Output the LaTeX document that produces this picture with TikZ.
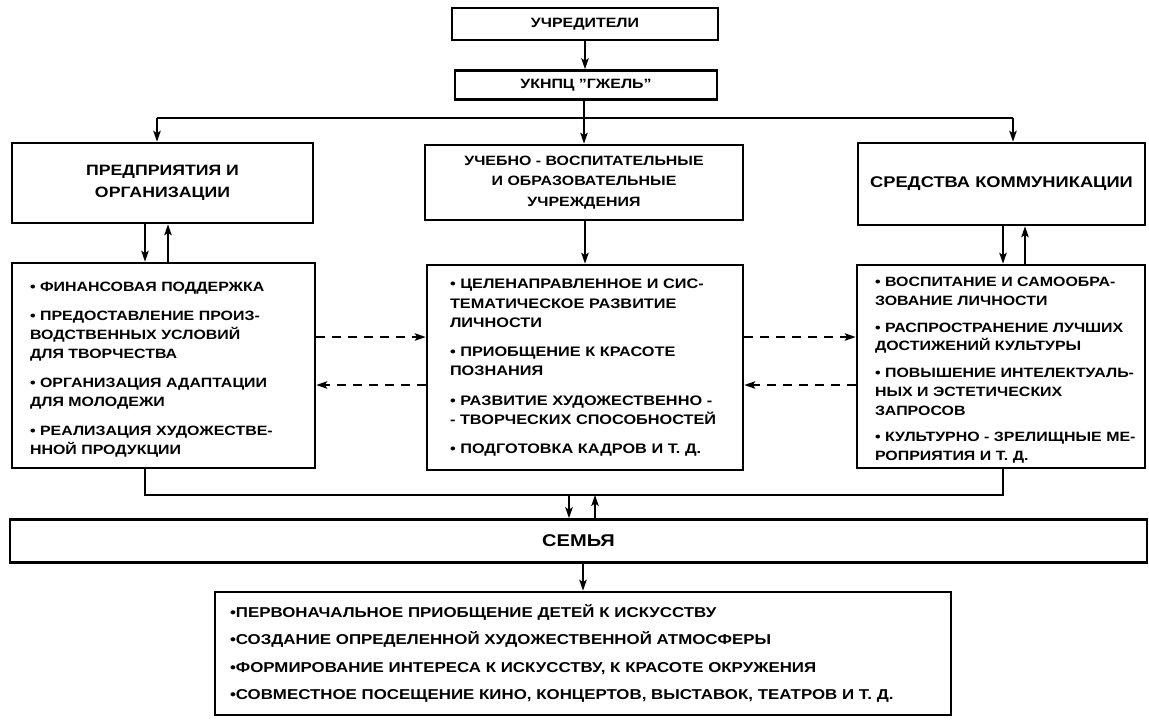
\documentclass[tikz,border=0pt]{standalone}
\usepackage{fontspec}
\setmainfont{Liberation Sans}[FakeStretch=1.18]
\usetikzlibrary{arrows.meta}
\begin{document}
\begin{tikzpicture}[x=1pt,y=-1pt,
  box/.style={draw, line width=2.6pt, inner sep=0pt, align=center,
    font=\bfseries\fontsize{13.5}{21}\selectfont},
  listbox/.style={box, align=left, font=\bfseries\fontsize{13.5}{19}\selectfont},
  conn/.style={line width=1.6pt},
  arr/.style={conn, -{Stealth[length=11pt,width=7.5pt,inset=2.5pt]}},
  darr/.style={arr, dash pattern=on 9pt off 7pt},
]
\useasboundingbox (0,0) rectangle (1149,720);

% top chain
\node[box, minimum width=266pt, minimum height=32pt] (uch) at (585,24) {УЧРЕДИТЕЛИ};
\node[box, minimum width=262pt, minimum height=29pt] (ukn) at (586,85) {УКНПЦ "ГЖЕЛЬ"};

% three upper boxes
\node[box, minimum width=301pt, minimum height=80pt, font=\bfseries\fontsize{15}{22}\selectfont] (ent) at (162.5,183)
  {ПРЕДПРИЯТИЯ И\\ОРГАНИЗАЦИИ};
\node[box, minimum width=318pt, minimum height=75pt, font=\bfseries\fontsize{13.5}{20.5}\selectfont] (edu) at (584,182.5)
  {УЧЕБНО - ВОСПИТАТЕЛЬНЫЕ\\И ОБРАЗОВАТЕЛЬНЫЕ\\УЧРЕЖДЕНИЯ};
\node[box, minimum width=287pt, minimum height=82pt, font=\bfseries\fontsize{15.5}{21}\selectfont] (com) at (1001.5,184)
  {СРЕДСТВА КОММУНИКАЦИИ};

% three lower boxes
\node[listbox, minimum width=303pt, minimum height=205pt, text width=267pt] (L) at (163.5,365.5)
  {\rule{0pt}{17pt}• ФИНАНСОВАЯ ПОДДЕРЖКА\\[10pt]
   • ПРЕДОСТАВЛЕНИЕ ПРОИЗ-\\ВОДСТВЕННЫХ УСЛОВИЙ\\ДЛЯ ТВОРЧЕСТВА\\[10pt]
   • ОРГАНИЗАЦИЯ АДАПТАЦИИ\\ДЛЯ МОЛОДЕЖИ\\[10pt]
   • РЕАЛИЗАЦИЯ ХУДОЖЕСТВЕ-\\ННОЙ ПРОДУКЦИИ};
\node[listbox, minimum width=316pt, minimum height=205pt, text width=270pt,
      font=\bfseries\fontsize{13.8}{19.5}\selectfont] (M) at (585,367.5)
  {• ЦЕЛЕНАПРАВЛЕННОЕ И СИС-\\ТЕМАТИЧЕСКОЕ РАЗВИТИЕ\\ЛИЧНОСТИ\\[9pt]
   • ПРИОБЩЕНИЕ К КРАСОТЕ\\ПОЗНАНИЯ\\[10pt]
   • РАЗВИТИЕ ХУДОЖЕСТВЕННО -\\- ТВОРЧЕСКИХ СПОСОБНОСТЕЙ\\[9pt]
   • ПОДГОТОВКА КАДРОВ И Т. Д.};
\node[listbox, minimum width=288pt, minimum height=203pt, text width=252pt,
      font=\bfseries\fontsize{13.5}{18.7}\selectfont] (R) at (1001,366.5)
  {\rule{0pt}{17pt}\mbox{• ВОСПИТАНИЕ И САМООБРА-}\\\mbox{ЗОВАНИЕ ЛИЧНОСТИ}\\[8pt]
   \mbox{• РАСПРОСТРАНЕНИЕ ЛУЧШИХ}\\\mbox{ДОСТИЖЕНИЙ КУЛЬТУРЫ}\\[8pt]
   \mbox{• ПОВЫШЕНИЕ ИНТЕЛЕКТУАЛЬ-}\\\mbox{НЫХ И ЭСТЕТИЧЕСКИХ}\\\mbox{ЗАПРОСОВ}\\[8pt]
   \mbox{• КУЛЬТУРНО - ЗРЕЛИЩНЫЕ МЕ-}\\\mbox{РОПРИЯТИЯ И Т. Д.}};

% family
\node[box, minimum width=1137pt, minimum height=43pt, font=\bfseries\fontsize{17}{20}\selectfont] (fam) at (578.5,541) {СЕМЬЯ};

% bottom list
\node[listbox, minimum width=736pt, minimum height=123pt, text width=706pt,
      font=\bfseries\fontsize{14.3}{27.5}\selectfont] (bot) at (583,653.5)
  {•ПЕРВОНАЧАЛЬНОЕ ПРИОБЩЕНИЕ ДЕТЕЙ К ИСКУССТВУ\\
   •СОЗДАНИЕ ОПРЕДЕЛЕННОЙ ХУДОЖЕСТВЕННОЙ АТМОСФЕРЫ\\
   •ФОРМИРОВАНИЕ ИНТЕРЕСА К ИСКУССТВУ, К КРАСОТЕ ОКРУЖЕНИЯ\\
   •СОВМЕСТНОЕ ПОСЕЩЕНИЕ КИНО, КОНЦЕРТОВ, ВЫСТАВОК, ТЕАТРОВ И Т. Д.};

% connectors at top
\draw[arr] (uch.south -| 585,0) -- (ukn.north -| 585,0);
\coordinate (hl) at (157,118);
\coordinate (hr) at (1013,118);
\draw[conn] (hl) -- (hr);
\draw[arr] (edu.north |- ukn.south) -- (edu.north);
\draw[arr] (hl) -- (hl |- ent.north);
\draw[arr] (hr) -- (hr |- com.north);

% vertical pairs
\coordinate (ld) at (145,0);
\coordinate (lu) at (168,0);
\coordinate (rd) at (1003,0);
\coordinate (ru) at (1025,0);
\draw[arr] (ld |- ent.south) -- (ld |- L.north);
\draw[arr] (lu |- L.north) -- (lu |- ent.south);
\draw[arr] (edu.south -| M.north) -- (M.north);
\draw[arr] (rd |- com.south) -- (rd |- R.north);
\draw[arr] (ru |- R.north) -- (ru |- com.south);

% dashed links
\coordinate (du) at (0,337);
\coordinate (dl) at (0,385);
\draw[darr] (L.east |- du) -- (M.west |- du);
\draw[darr] (M.west |- dl) -- (L.east |- dl);
\draw[darr] (M.east |- du) -- (R.west |- du);
\draw[darr] (R.west |- dl) -- (M.east |- dl);

% bottom collector
\coordinate (bl) at (145,495);
\coordinate (br) at (1003,495);
\draw[conn] (bl |- L.south) -- (bl) -- (br) -- (br |- R.south);
\coordinate (fd) at (569,495);
\coordinate (fu) at (595,495);
\draw[arr] (fd) -- (fd |- fam.north);
\draw[arr] (fu |- fam.north) -- (fu);
\draw[arr] (fam.south -| bot.north) -- (bot.north);
\end{tikzpicture}
\end{document}
